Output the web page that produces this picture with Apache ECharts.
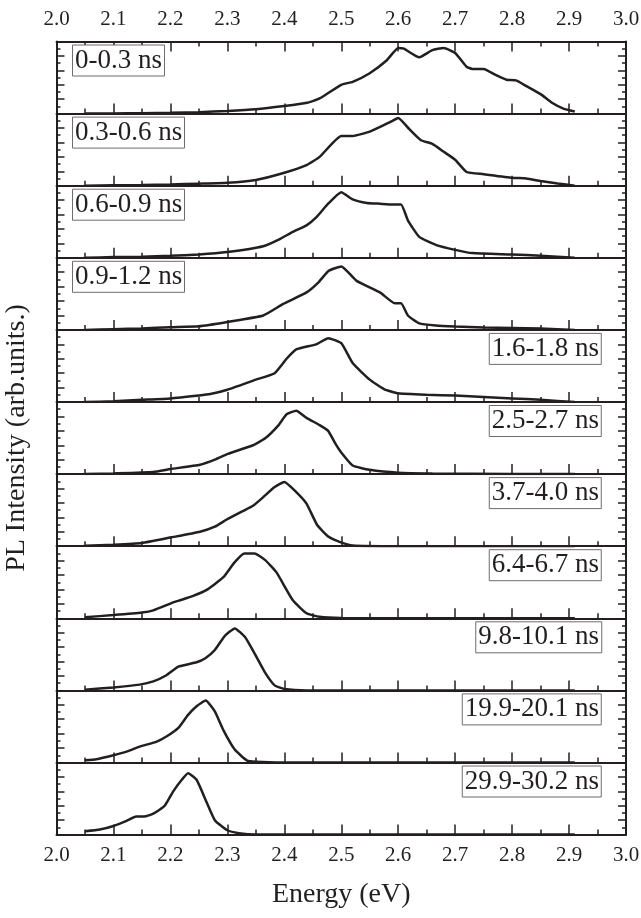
<!DOCTYPE html>
<html>
<head>
<meta charset="utf-8">
<script src="https://cdn.jsdelivr.net/npm/echarts@6/dist/echarts.min.js"></script>
<style>
html,body{margin:0;padding:0;background:#fff;}
#chart{width:641px;height:918px;}
</style>
</head>
<body>
<div id="chart"></div>
<script>
// Panel labels (time windows)
const panelLabels = ['0-0.3 ns','0.3-0.6 ns','0.6-0.9 ns','0.9-1.2 ns','1.6-1.8 ns','2.5-2.7 ns','3.7-4.0 ns','6.4-6.7 ns','9.8-10.1 ns','19.9-20.1 ns','29.9-30.2 ns'];
const labelSide = ['left','left','left','left','right','right','right','right','right','right','right'];
const xTickLabels = ['2.0','2.1','2.2','2.3','2.4','2.5','2.6','2.7','2.8','2.9','3.0'];

// Spectra: [energy (eV), normalized PL intensity]
const pl_0_03 = [[2.05,0],[2.10,0.003],[2.15,0.006],[2.20,0.012],[2.25,0.02],[2.30,0.036],[2.35,0.06],[2.40,0.105],[2.44,0.15],[2.462,0.21],[2.50,0.40],[2.52,0.44],[2.55,0.56],[2.58,0.74],[2.60,0.91],[2.61,0.90],[2.637,0.78],[2.66,0.88],[2.68,0.91],[2.70,0.84],[2.72,0.65],[2.73,0.62],[2.75,0.62],[2.77,0.54],[2.79,0.47],[2.807,0.46],[2.825,0.38],[2.85,0.27],[2.87,0.15],[2.89,0.07],[2.91,0.03]];
const pl_03_06 = [[2.05,0],[2.10,0.005],[2.15,0.01],[2.20,0.018],[2.25,0.028],[2.30,0.04],[2.35,0.08],[2.40,0.18],[2.44,0.29],[2.462,0.40],[2.50,0.69],[2.52,0.69],[2.55,0.75],[2.58,0.86],[2.59,0.90],[2.60,0.94],[2.62,0.78],[2.64,0.63],[2.66,0.58],[2.68,0.47],[2.70,0.36],[2.72,0.19],[2.75,0.16],[2.80,0.11],[2.825,0.10],[2.85,0.065],[2.88,0.03],[2.91,0.0]];
const pl_06_09 = [[2.05,0],[2.10,0.01],[2.15,0.015],[2.20,0.028],[2.25,0.046],[2.30,0.08],[2.363,0.16],[2.392,0.26],[2.415,0.36],[2.439,0.45],[2.456,0.56],[2.477,0.75],[2.50,0.91],[2.52,0.81],[2.545,0.76],[2.568,0.75],[2.59,0.74],[2.605,0.74],[2.617,0.52],[2.637,0.29],[2.666,0.18],[2.70,0.11],[2.73,0.065],[2.80,0.046],[2.85,0.028],[2.91,0]];
const pl_09_12 = [[2.05,0],[2.10,0.01],[2.15,0.02],[2.20,0.037],[2.25,0.05],[2.30,0.11],[2.363,0.2],[2.398,0.36],[2.439,0.52],[2.46,0.66],[2.478,0.82],[2.50,0.88],[2.527,0.68],[2.568,0.52],[2.594,0.37],[2.605,0.37],[2.617,0.2],[2.637,0.09],[2.666,0.06],[2.70,0.046],[2.75,0.032],[2.85,0.02],[2.91,0]];
const pl_16_18 = [[2.05,0],[2.10,0.01],[2.15,0.03],[2.20,0.05],[2.25,0.09],[2.27,0.11],[2.30,0.17],[2.35,0.31],[2.383,0.40],[2.404,0.60],[2.421,0.73],[2.456,0.80],[2.477,0.885],[2.50,0.815],[2.52,0.54],[2.55,0.31],[2.575,0.18],[2.60,0.12],[2.65,0.10],[2.70,0.09],[2.75,0.07],[2.80,0.05],[2.85,0.03],[2.91,0]];
const pl_25_27 = [[2.05,0],[2.10,0.01],[2.17,0.03],[2.20,0.07],[2.252,0.13],[2.278,0.2],[2.301,0.28],[2.345,0.40],[2.367,0.50],[2.39,0.68],[2.404,0.83],[2.421,0.88],[2.439,0.78],[2.462,0.68],[2.477,0.6],[2.49,0.42],[2.50,0.3],[2.52,0.12],[2.55,0.06],[2.60,0.02],[2.66,0.01],[2.80,0.003],[2.91,0]];
const pl_37_40 = [[2.05,0.005],[2.10,0.02],[2.15,0.045],[2.20,0.12],[2.252,0.2],[2.278,0.27],[2.299,0.37],[2.328,0.49],[2.345,0.56],[2.363,0.68],[2.383,0.82],[2.40,0.89],[2.421,0.75],[2.439,0.59],[2.458,0.29],[2.478,0.13],[2.497,0.06],[2.52,0.01],[2.60,0],[2.91,0]];
const pl_64_67 = [[2.05,0.015],[2.10,0.045],[2.15,0.08],[2.17,0.11],[2.205,0.22],[2.217,0.25],[2.24,0.31],[2.263,0.39],[2.293,0.57],[2.313,0.78],[2.33,0.90],[2.348,0.90],[2.366,0.81],[2.386,0.64],[2.415,0.25],[2.439,0.07],[2.462,0.02],[2.50,0.005],[2.91,0]];
const pl_98_101 = [[2.05,0.01],[2.10,0.04],[2.146,0.08],[2.17,0.125],[2.193,0.21],[2.214,0.33],[2.246,0.39],[2.262,0.45],[2.278,0.56],[2.296,0.76],[2.313,0.86],[2.331,0.74],[2.348,0.51],[2.366,0.25],[2.383,0.07],[2.40,0.02],[2.44,0],[2.91,0]];
const pl_199_201 = [[2.05,0.03],[2.07,0.045],[2.10,0.1],[2.123,0.15],[2.146,0.22],[2.176,0.29],[2.193,0.36],[2.214,0.48],[2.231,0.66],[2.246,0.78],[2.262,0.86],[2.278,0.71],[2.293,0.45],[2.313,0.18],[2.334,0.03],[2.35,0.01],[2.40,0],[2.91,0]];
const pl_299_302 = [[2.05,0.046],[2.076,0.07],[2.10,0.12],[2.123,0.19],[2.14,0.25],[2.154,0.25],[2.17,0.29],[2.19,0.40],[2.205,0.60],[2.22,0.76],[2.231,0.85],[2.246,0.76],[2.263,0.46],[2.278,0.2],[2.30,0.06],[2.32,0.02],[2.35,0],[2.91,0]];

const spectra = [pl_0_03,pl_03_06,pl_06_09,pl_09_12,pl_16_18,pl_25_27,pl_37_40,pl_64_67,pl_98_101,pl_199_201,pl_299_302];

const INK = '#231f20';
const FONT = 'Liberation Serif';
const N = spectra.length;
const TOP = 41.5, H = 72.1, LEFT = 56.5, RIGHT = 15;

const grids = [], xAxes = [], yAxes = [], series = [], titles = [];
const axisLine = {show:true, onZero:false, lineStyle:{color:INK, width:2}};
const tickStyle = {color:INK, width:1.5};

for (let i = 0; i < N; i++) {
  const top = TOP + i*H;
  grids.push({left:LEFT, right:RIGHT, top:top, height:H, containLabel:false, outerBoundsMode:'none'});
  xAxes.push({
    gridIndex:i, type:'value', min:2, max:3, interval:0.1, position:'bottom',
    axisLine:axisLine,
    axisTick:{show:true, inside:true, length:10, lineStyle:tickStyle},
    minorTick:{show:true, splitNumber:2, length:5, lineStyle:tickStyle},
    axisLabel:{show:i===N-1, margin:10, color:INK, fontFamily:FONT, fontSize:21,
      formatter:(v)=>xTickLabels[Math.round((v-2)*10)]},
    splitLine:{show:false},
    name: i===N-1 ? 'Energy (eV)' : '',
    nameLocation:'middle', nameGap:46,
    nameTextStyle:{color:INK, fontFamily:FONT, fontSize:28}
  });
  const yBase = {
    gridIndex:i, type:'value', min:0, max:1, interval:0.2,
    axisLine:axisLine,
    axisTick:{show:true, inside:true, length:8, lineStyle:tickStyle},
    minorTick:{show:true, splitNumber:2, length:4, lineStyle:tickStyle},
    axisLabel:{show:false}, splitLine:{show:false}
  };
  yAxes.push(Object.assign({}, yBase, {position:'left',
    name: i===5 ? 'PL Intensity (arb.units.)' : '',
    nameLocation:'middle', nameRotate:90, nameGap:26,
    nameTextStyle:{color:INK, fontFamily:FONT, fontSize:28}}));
  yAxes.push(Object.assign({}, yBase, {position:'right'}));
  series.push({
    type:'line', xAxisIndex:i, yAxisIndex:2*i, data:spectra[i],
    showSymbol:false, smooth:0.15,
    lineStyle:{color:INK, width:2.5}, z:3
  });
  const t = {
    text:panelLabels[i], top:top+3,
    padding:[1,3,1,3], borderWidth:1, borderColor:'#6d6d6d', backgroundColor:'#fff',
    textStyle:{color:INK, fontFamily:FONT, fontSize:27, fontWeight:'normal', lineHeight:30}
  };
  if (labelSide[i]==='left') t.left = 72; else t.right = 39;
  titles.push(t);
}
// top axis with labels
xAxes.push({
  gridIndex:0, type:'value', min:2, max:3, interval:0.1, position:'top',
  axisLine:axisLine,
  axisTick:{show:true, inside:true, length:10, lineStyle:tickStyle},
  minorTick:{show:true, splitNumber:2, length:5, lineStyle:tickStyle},
  axisLabel:{show:true, margin:12, color:INK, fontFamily:FONT, fontSize:21,
    formatter:(v)=>xTickLabels[Math.round((v-2)*10)]},
  splitLine:{show:false}
});

const chart = echarts.init(document.getElementById('chart'), null, {renderer:'canvas'});
chart.setOption({
  animation:false,
  backgroundColor:'#fff',
  title:titles,
  grid:grids,
  xAxis:xAxes,
  yAxis:yAxes,
  series:series
});
</script>
</body>
</html>
